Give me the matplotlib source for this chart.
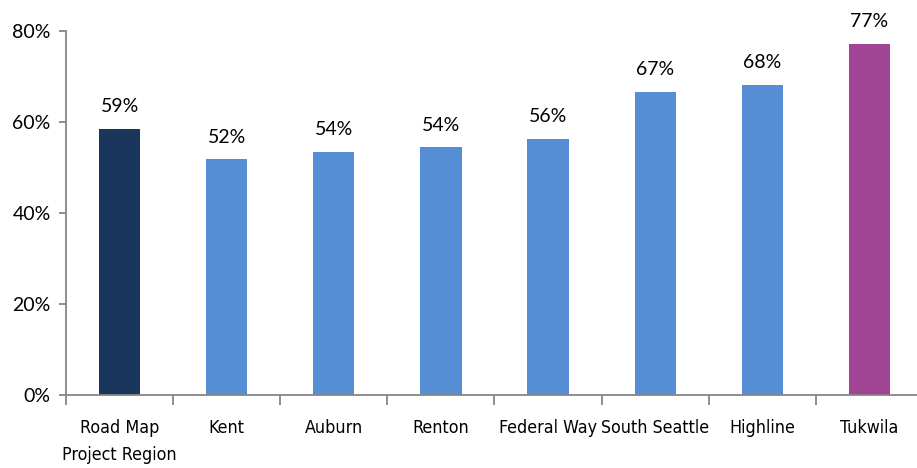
import numpy as np
import matplotlib
matplotlib.use('Agg')
import matplotlib.pyplot as plt
from matplotlib.ticker import FixedLocator
from matplotlib import font_manager

# data
categories = ['Road Map\nProject Region', 'Kent', 'Auburn', 'Renton',
              'Federal Way', 'South Seattle', 'Highline', 'Tukwila']
values = [58.5, 51.8, 53.5, 54.4, 56.3, 66.6, 68.1, 77.2]
labels = ['59%', '52%', '54%', '54%', '56%', '67%', '68%', '77%']
colors = ['#1B365D', '#558ED5', '#558ED5', '#558ED5', '#558ED5',
          '#558ED5', '#558ED5', '#A14496']
yticks = [0, 20, 40, 60, 80]

axis_grey = '#868686'
num_font = ['Lato', 'DejaVu Sans']

# narrow regular face for the category names if the system has one
narrow = [f for f in font_manager.fontManager.ttflist
          if ('Narrow' in f.name or f.stretch in ('condensed', 'semi-condensed'))
          and f.weight in (400, 'normal', 'regular', 'book') and f.style == 'normal']
if narrow:
    cat_prop = font_manager.FontProperties(fname=narrow[0].fname, size=12.8)
else:
    cat_prop = font_manager.FontProperties(family='DejaVu Sans', size=12)

fig = plt.figure(figsize=(9.17, 4.68), dpi=100)
# axes runs a little past the right edge, like the reference
ax = fig.add_axes([66 / 917, 1 - 395 / 468, (923 - 66) / 917, (395 - 31) / 468])

x = np.arange(len(categories))
ax.bar(x, values, width=0.385, color=colors)

for xi, v, lab in zip(x, values, labels):
    ax.text(xi, v + 3.0, lab, ha='center', va='bottom', fontsize=14,
            family=num_font, color='black')

ax.set_xlim(-0.5, len(categories) - 0.5)
ax.set_ylim(0, 80)

ax.set_yticks(yticks)
ax.set_yticklabels([f'{t}%' for t in yticks], family=num_font, fontsize=14)

# category labels centred, tick marks between categories
ax.set_xticks(x)
ax.set_xticklabels(categories, fontproperties=cat_prop, linespacing=1.65)
ax.tick_params(axis='x', length=0, pad=17)
ax.xaxis.set_minor_locator(FixedLocator(np.arange(-0.5, len(categories), 1.0)))
ax.tick_params(axis='x', which='minor', length=7, color=axis_grey, width=1.3)
ax.tick_params(axis='y', length=5, color=axis_grey, width=1.3, pad=6)

for side in ['top', 'right']:
    ax.spines[side].set_visible(False)
for side in ['left', 'bottom']:
    ax.spines[side].set_color(axis_grey)
    ax.spines[side].set_linewidth(1.3)

fig.savefig('out.png', dpi=100)
